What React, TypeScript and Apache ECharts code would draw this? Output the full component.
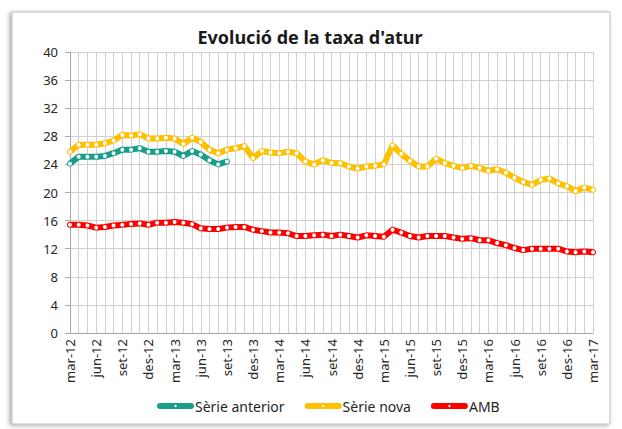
import React, { useEffect, useRef } from "react";
import * as echarts from "echarts";

const categories = [
  "mar-12","abr-12","mai-12","jun-12","jul-12","ago-12","set-12","oct-12","nov-12","des-12","gen-13","feb-13",
  "mar-13","abr-13","mai-13","jun-13","jul-13","ago-13","set-13","oct-13","nov-13","des-13","gen-14","feb-14",
  "mar-14","abr-14","mai-14","jun-14","jul-14","ago-14","set-14","oct-14","nov-14","des-14","gen-15","feb-15",
  "mar-15","abr-15","mai-15","jun-15","jul-15","ago-15","set-15","oct-15","nov-15","des-15","gen-16","feb-16",
  "mar-16","abr-16","mai-16","jun-16","jul-16","ago-16","set-16","oct-16","nov-16","des-16","gen-17","feb-17",
  "mar-17",
];

const serieAnterior = [
  24.1, 25.1, 25.1, 25.1, 25.2, 25.6, 26.1, 26.1, 26.3, 25.8, 25.8, 25.9,
  25.8, 25.2, 25.9, 25.4, 24.6, 24.0, 24.4,
];

const serieNova = [
  25.8, 26.8, 26.8, 26.8, 27.0, 27.4, 28.2, 28.1, 28.3, 27.7, 27.7, 27.8,
  27.7, 26.9, 27.8, 27.2, 26.1, 25.6, 26.1, 26.3, 26.6, 24.9, 25.9, 25.7,
  25.6, 25.8, 25.6, 24.4, 24.0, 24.6, 24.2, 24.2, 23.7, 23.4, 23.7, 23.8,
  24.0, 26.7, 25.5, 24.5, 23.7, 23.7, 24.8, 24.2, 23.8, 23.5, 23.8, 23.5,
  23.1, 23.3, 22.8, 22.1, 21.5, 21.1, 21.8, 22.0, 21.3, 20.9, 20.2, 20.7,
  20.4,
];

const amb = [
  15.4, 15.4, 15.3, 15.0, 15.1, 15.3, 15.4, 15.5, 15.6, 15.4, 15.7, 15.7,
  15.8, 15.7, 15.5, 14.9, 14.8, 14.8, 15.0, 15.1, 15.1, 14.7, 14.5, 14.3,
  14.3, 14.2, 13.8, 13.8, 13.9, 14.0, 13.8, 14.0, 13.8, 13.6, 13.9, 13.8,
  13.7, 14.7, 14.3, 13.8, 13.6, 13.8, 13.8, 13.8, 13.6, 13.4, 13.5, 13.2,
  13.2, 12.8, 12.5, 12.1, 11.8, 12.0, 12.0, 12.0, 12.0, 11.6, 11.5, 11.6,
  11.5,
];

const seriesNames = ["Sèrie anterior", "Sèrie nova", "AMB"];
const seriesColors = ["#179e8a", "#ffc000", "#ff0000"];

const yTicks = { min: 0, max: 40, interval: 4 };

const FONT = "'Noto Sans', sans-serif";

const LEGEND_ICON =
  "path://M3,0L34,0A3,3,0,0,1,34,6L3,6A3,3,0,0,1,3,0ZM18.5,1.8A1.2,1.2,0,1,0,18.5,4.2A1.2,1.2,0,1,0,18.5,1.8Z";

function mkSeries(name: string, data: number[], color: string) {
  return {
    name,
    type: "line",
    data,
    color,
    symbol: "circle",
    symbolSize: 4,
    showSymbol: true,
    lineStyle: { color, width: 6, cap: "round", join: "round" },
    itemStyle: { color: "#ffffff", borderColor: "#ffffff", borderWidth: 0 },
    emphasis: { disabled: true },
  };
}

export default function App() {
  const ref = useRef<HTMLDivElement>(null);
  useEffect(() => {
    if (!ref.current) return;
    const chart = echarts.init(ref.current, undefined, { renderer: "svg" });
    chart.setOption({
      animation: false,
      backgroundColor: "#ffffff",
      graphic: [
        {
          type: "rect",
          shape: { x: 12, y: 12, width: 598, height: 412 },
          style: {
            fill: "#ffffff",
            stroke: "#bfbfbf",
            lineWidth: 1,
            shadowBlur: 4,
            shadowColor: "rgba(0,0,0,0.35)",
            shadowOffsetX: -2,
            shadowOffsetY: 1,
          },
          z: -10,
          silent: true,
        },
      ],
      title: {
        text: "Evolució de la taxa d'atur",
        left: 305,
        textAlign: "center",
        top: 23,
        textStyle: { fontFamily: FONT, fontWeight: "bold", fontSize: 18, color: "#1a1a1a" },
      },
      grid: { left: 70, right: 29, top: 52, bottom: 96, containLabel: false },
      legend: {
        bottom: 11,
        left: 152,
        itemWidth: 37,
        itemHeight: 6,
        itemGap: 20,
        textStyle: { fontFamily: FONT, fontSize: 14, color: "#262626", padding: [0, 0, 0, -4] },
        data: seriesNames.map((n, i) => ({
          name: n,
          icon: LEGEND_ICON,
          itemStyle: { color: seriesColors[i], borderWidth: 0 },
        })),
      },
      xAxis: {
        type: "category",
        data: categories,
        boundaryGap: false,
        axisLine: { lineStyle: { color: "#a6a6a6" } },
        axisTick: { show: false },
        splitLine: { show: true, interval: 0, lineStyle: { color: "#d0d0d0", width: 1 } },
        axisLabel: {
          interval: 2,
          rotate: 90,
          fontFamily: FONT,
          fontSize: 13,
          color: "#262626",
          margin: 6,
        },
      },
      yAxis: {
        type: "value",
        min: yTicks.min,
        max: yTicks.max,
        interval: yTicks.interval,
        axisLine: { show: true, lineStyle: { color: "#a6a6a6" } },
        axisTick: { show: true, length: 5, lineStyle: { color: "#a6a6a6" } },
        splitLine: { lineStyle: { color: "#d0d0d0", width: 1 } },
        axisLabel: { fontFamily: FONT, fontSize: 13, color: "#262626", margin: 12 },
      },
      series: [
        mkSeries(seriesNames[0], serieAnterior, seriesColors[0]),
        mkSeries(seriesNames[1], serieNova, seriesColors[1]),
        mkSeries(seriesNames[2], amb, seriesColors[2]),
      ],
    });
    return () => chart.dispose();
  }, []);
  return (
    <div
      ref={ref}
      style={{ position: "fixed", left: 0, top: 0, width: 622, height: 429 }}
    />
  );
}
